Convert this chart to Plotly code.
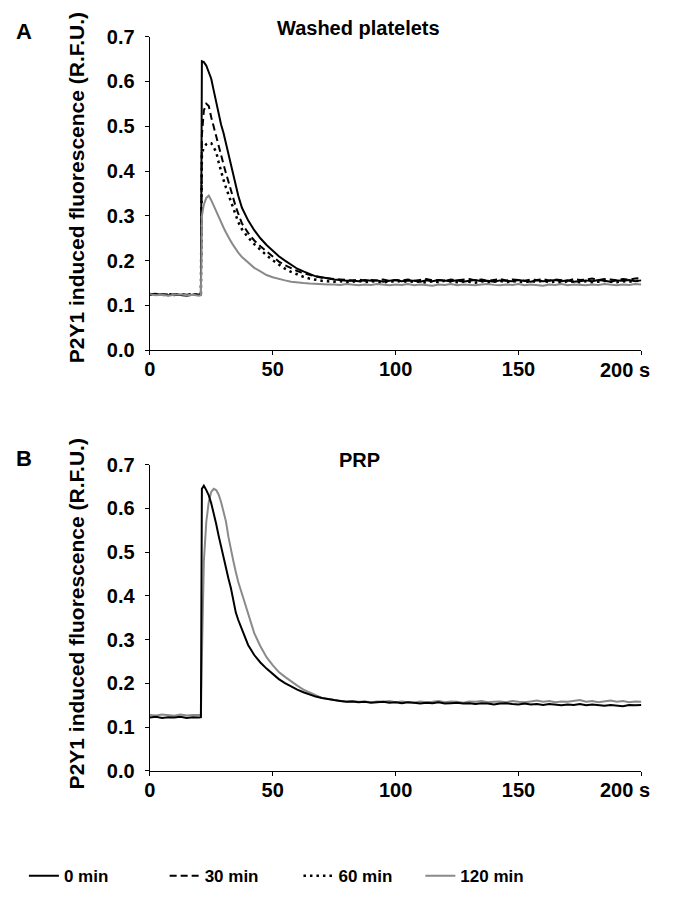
import plotly.graph_objects as go

# ---------------- data ----------------
T_BASE = [0, 2.5, 5, 7.5, 10, 12.5, 15, 17.5, 20]
T_JUMP = [20.8, 21.2]
T_PEAK = [22, 23, 24, 25, 26, 27, 28, 29, 30, 31, 32, 33, 34, 35, 36]
T_DECAY = [37.5, 40, 42.5, 45, 47.5, 50, 52.5, 55, 57.5, 60, 62.5, 65, 67.5, 70, 72.5, 75]
T_TAIL = [77.5, 80, 82.5, 85, 87.5, 90, 92.5, 95, 97.5, 100,
          102.5, 105, 107.5, 110, 112.5, 115, 117.5, 120, 122.5, 125,
          127.5, 130, 132.5, 135, 137.5, 140, 142.5, 145, 147.5, 150,
          152.5, 155, 157.5, 160, 162.5, 165, 167.5, 170, 172.5, 175,
          177.5, 180, 182.5, 185, 187.5, 190, 192.5, 195, 197.5, 200]
TIME = T_BASE + T_JUMP + T_PEAK + T_DECAY + T_TAIL

# Panel A: washed platelets
A_0MIN = ([.126, .124, .125, .123, .125, .124, .122, .124, .123]
          + [.124, .645]
          + [.643, .635, .622, .606, .580, .553, .528, .504, .485, .462, .440, .418, .396, .370, .345]
          + [.318, .290, .268, .250, .235, .222, .210, .200, .190, .182, .176, .170, .165, .163, .160, .158]
          + [.157, .155, .156, .154, .157, .155, .156, .153, .155, .157,
             .154, .156, .155, .153, .156, .154, .157, .155, .154, .156,
             .153, .155, .157, .154, .155, .153, .156, .155, .154, .157,
             .155, .153, .156, .154, .155, .157, .154, .156, .153, .155,
             .156, .154, .157, .155, .153, .156, .155, .157, .154, .156])
A_30MIN = ([.125, .126, .124, .125, .123, .126, .124, .125, .124]
           + [.125, .480]
           + [.535, .550, .545, .520, .498, .475, .455, .435, .415, .395, .375, .355, .337, .320, .305]
           + [.283, .262, .245, .232, .220, .208, .198, .190, .183, .177, .172, .168, .165, .162, .160, .159]
           + [.158, .157, .156, .158, .155, .157, .156, .158, .155, .157,
              .156, .158, .155, .157, .159, .156, .157, .155, .158, .156,
              .157, .159, .156, .158, .155, .157, .159, .156, .158, .157,
              .155, .158, .157, .159, .156, .158, .157, .155, .159, .157,
              .158, .160, .157, .159, .158, .156, .159, .158, .160, .161])
A_60MIN = ([.124, .125, .123, .124, .126, .123, .125, .124, .125]
           + [.124, .440]
           + [.452, .460, .463, .462, .452, .443, .420, .398, .380, .363, .348, .333, .316, .300, .286]
           + [.270, .252, .237, .224, .212, .201, .191, .182, .175, .169, .164, .160, .157, .155, .154, .153]
           + [.154, .152, .153, .155, .152, .154, .153, .151, .154, .153,
              .155, .152, .154, .153, .151, .154, .152, .155, .153, .152,
              .154, .153, .151, .154, .152, .153, .155, .152, .154, .153,
              .152, .154, .153, .155, .152, .153, .151, .154, .153, .152,
              .154, .152, .153, .155, .153, .152, .154, .153, .155, .154])
A_120MIN = ([.125, .123, .124, .122, .124, .125, .123, .124, .122]
            + [.123, .300]
            + [.325, .340, .345, .335, .322, .310, .298, .285, .274, .263, .252, .243, .234, .225, .218]
            + [.208, .195, .184, .176, .168, .163, .159, .156, .153, .151, .150, .149, .148, .148, .147, .147]
            + [.146, .148, .147, .145, .147, .146, .148, .146, .145, .147,
               .146, .148, .145, .147, .146, .144, .147, .146, .148, .145,
               .147, .146, .145, .147, .148, .146, .145, .147, .146, .148,
               .145, .147, .146, .144, .147, .146, .148, .145, .147, .146,
               .145, .147, .146, .148, .146, .145, .147, .146, .148, .147])

# Panel B: PRP
B_0MIN = ([.122, .124, .121, .123, .122, .124, .121, .123, .122]
          + [.123, .645]
          + [.652, .642, .630, .612, .590, .565, .538, .512, .486, .462, .440, .418, .385, .362, .345]
          + [.322, .288, .265, .248, .234, .222, .210, .201, .193, .186, .180, .175, .170, .167, .164, .162]
          + [.160, .158, .159, .157, .158, .156, .157, .158, .156, .157,
             .155, .157, .156, .154, .156, .155, .157, .154, .155, .156,
             .154, .155, .153, .155, .154, .152, .154, .155, .153, .152,
             .154, .152, .153, .151, .153, .152, .150, .152, .151, .153,
             .150, .152, .151, .149, .151, .150, .148, .151, .150, .151])
B_120MIN = ([.128, .127, .129, .128, .126, .129, .127, .128, .129]
            + [.128, .260]
            + [.480, .570, .615, .638, .645, .642, .632, .615, .595, .570, .535, .505, .480, .455, .432]
            + [.405, .358, .315, .285, .260, .242, .226, .215, .204, .195, .186, .179, .173, .167, .164, .162]
            + [.160, .159, .160, .158, .159, .157, .159, .158, .160, .157,
               .159, .158, .156, .159, .157, .158, .160, .157, .159, .158,
               .156, .159, .158, .160, .157, .158, .159, .157, .160, .158,
               .157, .159, .161, .158, .160, .157, .159, .158, .160, .162,
               .158, .160, .157, .159, .161, .158, .160, .157, .159, .158])

X_TICKS = [0, 50, 100, 150, 200]
X_TICKTEXT = ["0", "50", "100", "150", ""]
X_LAST_LABEL = "200 s"
Y_TICKS = [0.0, 0.1, 0.2, 0.3, 0.4, 0.5, 0.6, 0.7]
Y_TITLE = "P2Y1 induced fluorescence (R.F.U.)"
TITLE_A = "Washed platelets"
TITLE_B = "PRP"
SERIES_NAMES = ["0 min", "30 min", "60 min", "120 min"]

# ---------------- layout helpers ----------------
# The page has an 8 px body margin, so the figure is 16 px smaller than the
# window and all target positions (window pixels) are shifted by 8.
OFF = 8
W, H = 691 - 2 * OFF, 907 - 2 * OFF
def px_x(p):
    return (p - OFF) / W
def px_y(p):
    return (H - (p - OFF)) / H

FONT = "Liberation Sans, Arial, sans-serif"
GRAY = "rgb(138,138,138)"

styles = [
    dict(color="black", width=2, dash="solid"),
    dict(color="black", width=2, dash="7px,4px"),
    dict(color="black", width=2.5, dash="2.5px,4px"),
    dict(color=GRAY, width=2, dash="solid"),
]
legends = ["legend", "legend2", "legend3", "legend4"]

fig = go.Figure()
for ys, name, st, lg in zip([A_0MIN, A_30MIN, A_60MIN, A_120MIN], SERIES_NAMES, styles, legends):
    fig.add_trace(go.Scatter(x=TIME, y=ys, mode="lines", name=name, line=st,
                             xaxis="x", yaxis="y", legend=lg))
for ys, name, st in zip([B_120MIN, B_0MIN], ["120 min", "0 min"], [styles[3], styles[0]]):
    fig.add_trace(go.Scatter(x=TIME, y=ys, mode="lines", name=name, line=st,
                             xaxis="x2", yaxis="y2", showlegend=False))

xdom = [px_x(145), px_x(641)]
common_x = dict(range=[0, 200], showline=True, linecolor="black", linewidth=1.3,
                ticks="outside", ticklen=4, tickcolor="black", tickwidth=1.3,
                tickvals=X_TICKS, ticktext=X_TICKTEXT, showgrid=False, zeroline=False,
                tickfont=dict(family=FONT, size=20, color="black", weight="bold"),
                ticklabelstandoff=-3, domain=xdom, fixedrange=True)
common_y = dict(range=[0, 0.7], showline=True, linecolor="black", linewidth=1.3,
                ticks="outside", ticklen=4, tickcolor="black", tickwidth=1.3,
                tickvals=Y_TICKS, tickformat=".1f", showgrid=False, zeroline=False,
                tickfont=dict(family=FONT, size=20, color="black", weight="bold"),
                ticklabelstandoff=6, fixedrange=True)

leg_common = dict(orientation="h", xanchor="left", yanchor="middle", y=px_y(887),
                  bgcolor="rgba(0,0,0,0)", borderwidth=0,
                  font=dict(family=FONT, size=17, color="black", weight="bold"))
leg_x = [18, 160, 295, 418]

fig.update_layout(
    width=W, height=H, margin=dict(l=0, r=0, t=0, b=0),
    paper_bgcolor="white", plot_bgcolor="white",
    xaxis=dict(common_x, anchor="y"),
    yaxis=dict(common_y, anchor="x", domain=[px_y(347.7), px_y(26)]),
    xaxis2=dict(common_x, anchor="y2"),
    yaxis2=dict(common_y, anchor="x2", domain=[px_y(779), px_y(465)]),
    legend=dict(leg_common, x=px_x(leg_x[0])),
    legend2=dict(leg_common, x=px_x(leg_x[1])),
    legend3=dict(leg_common, x=px_x(leg_x[2])),
    legend4=dict(leg_common, x=px_x(leg_x[3])),
    showlegend=True,
)

def ann(text, x, y, size, angle=0, xanchor="center"):
    fig.add_annotation(text=text, x=px_x(x), y=px_y(y), xref="paper", yref="paper",
                       showarrow=False, textangle=angle, xanchor=xanchor, yanchor="middle",
                       font=dict(family=FONT, size=size, color="black", weight="bold"))

ann(Y_TITLE, 71, 181, 21, angle=-90)
ann(Y_TITLE, 71, 618, 21, angle=-90)
ann(TITLE_A, 356, 17, 20)
ann(TITLE_B, 357, 460, 20)
ann("A", 18, 21, 22)
ann("B", 18, 459, 22)
ann(X_LAST_LABEL, 652, 367.5, 20, xanchor="right")
ann(X_LAST_LABEL, 652, 798.5, 20, xanchor="right")

fig.write_html("out.html")
